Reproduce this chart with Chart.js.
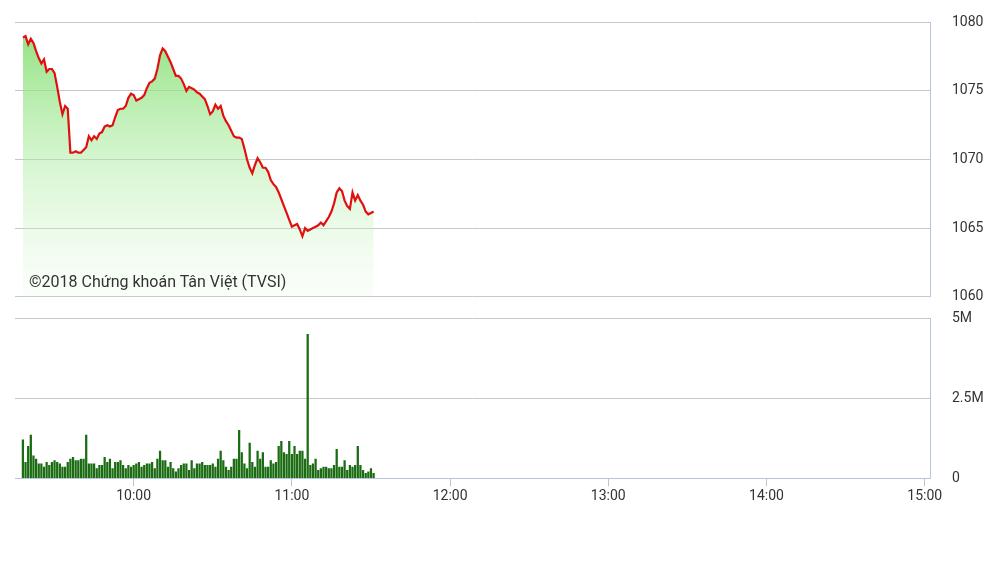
<!DOCTYPE html>
<html><head><meta charset="utf-8">
<script src="https://cdn.jsdelivr.net/npm/chart.js@4"></script>
<style>
body{margin:0;background:#fff;width:1005px;height:564px;overflow:hidden;position:relative;font-family:Roboto,sans-serif}
#c1{position:absolute;left:0;top:-8px}
#c2{position:absolute;left:0;top:288px}
#wm{position:absolute;left:29px;top:272px;font-size:16px;color:#333;font-family:Roboto,sans-serif}
</style></head><body>
<canvas id="c1" width="1005" height="335"></canvas>
<canvas id="c2" width="1005" height="264"></canvas>
<div id="wm">©2018 Chứng khoán Tân Việt (TVSI)</div>
<script>
const startMinute = 558; // 9:18
const prices = [1078.9,1079.0,1078.4,1078.8,1078.5,1077.9,1077.4,1077.0,1077.3,1076.4,1076.6,1076.6,1076.3,1075.3,1074.2,1073.3,1073.9,1073.7,1070.5,1070.5,1070.6,1070.5,1070.5,1070.7,1070.9,1071.7,1071.4,1071.7,1071.5,1071.9,1072.0,1072.4,1072.5,1072.4,1072.5,1073.1,1073.6,1073.7,1073.7,1073.9,1074.5,1074.8,1074.7,1074.3,1074.4,1074.5,1074.7,1075.2,1075.6,1075.7,1075.9,1076.6,1077.6,1078.1,1077.9,1077.5,1077.1,1076.6,1076.1,1076.1,1075.9,1075.5,1075.0,1075.3,1075.2,1075.1,1074.9,1074.8,1074.6,1074.4,1073.9,1073.3,1073.5,1074.0,1073.7,1073.9,1073.2,1072.8,1072.5,1072.1,1071.7,1071.6,1071.6,1071.5,1070.8,1070.0,1069.4,1069.0,1069.6,1070.1,1069.8,1069.4,1069.4,1069.1,1068.5,1068.2,1068.0,1067.6,1067.1,1066.6,1066.1,1065.6,1065.1,1065.2,1065.3,1064.9,1064.4,1065.0,1064.8,1064.9,1065.0,1065.1,1065.2,1065.4,1065.2,1065.5,1065.8,1066.2,1066.8,1067.6,1067.9,1067.7,1067.0,1066.6,1066.4,1067.6,1067.0,1067.4,1067.0,1066.7,1066.2,1066.0,1066.1,1066.2];
const volumesM = [1.2,0.5,1.0,1.35,0.7,0.6,0.45,0.45,0.35,0.5,0.4,0.5,0.55,0.5,0.45,0.35,0.35,0.5,0.6,0.65,0.55,0.55,0.6,0.6,1.35,0.45,0.45,0.45,0.3,0.4,0.4,0.65,0.5,0.6,0.3,0.5,0.5,0.55,0.4,0.3,0.4,0.35,0.4,0.45,0.5,0.35,0.4,0.45,0.45,0.5,0.3,0.6,0.85,0.55,0.55,0.35,0.5,0.3,0.2,0.3,0.4,0.45,0.45,0.25,0.55,0.3,0.45,0.45,0.5,0.4,0.4,0.4,0.45,0.35,0.6,0.85,0.55,0.35,0.25,0.35,0.6,0.6,1.5,0.8,0.45,0.3,1.1,0.5,0.35,0.85,0.6,0.8,0.35,0.35,0.55,0.45,0.5,1.0,1.15,0.8,0.75,1.15,0.75,1.0,0.75,0.85,0.85,0.6,4.5,0.4,0.45,0.6,0.25,0.3,0.35,0.35,0.3,0.3,0.4,0.9,0.35,0.35,0.55,0.25,0.4,0.35,0.4,1.0,0.4,0.25,0.15,0.2,0.3,0.15];
const priceTicks = [1060,1065,1070,1075,1080];
const volTicks = [0,2.5,5];
const timeTicks = [600,660,720,780,840,900];

const fmtTime = m => Math.floor(m/60)+':'+String(m%60).padStart(2,'0');
const priceData = prices.map((v,i)=>({x:startMinute+i,y:v}));
const volData = volumesM.map((v,i)=>({x:startMinute+i,y:v}));
const font = {family:'Roboto',size:14};
const col = '#333';
const grid = '#c8c8cc';
const fitW = s=>{s.width=75;};
const xMin=555,xMax=902;

new Chart(document.getElementById('c1'),{
  type:'line',
  data:{datasets:[{data:priceData,borderColor:'#e01010',borderWidth:2.2,pointRadius:0,tension:0,
    fill:'start',
    backgroundColor:(ctx)=>{const a=ctx.chart.chartArea;if(!a)return 'rgba(150,230,130,0.5)';
      const g=ctx.chart.ctx.createLinearGradient(0,a.top,0,a.bottom);
      g.addColorStop(0,'rgba(120,220,100,0.85)');g.addColorStop(1,'rgba(220,250,215,0.15)');return g;}}]},
  options:{responsive:false,animation:false,layout:{padding:{left:15,top:14,bottom:5,right:0}},
    plugins:{legend:{display:false},tooltip:{enabled:false}},
    scales:{
      x:{type:'linear',min:xMin,max:xMax,display:false},
      y:{position:'right',min:1060,max:1080,afterFit:fitW,
        afterBuildTicks:s=>{s.ticks=priceTicks.map(v=>({value:v}));},
        border:{display:true,color:'#b8c4dc'},
        grid:{color:grid,drawTicks:false},
        ticks:{color:col,font,padding:22,callback:v=>String(v)}}
    }}
});

new Chart(document.getElementById('c2'),{
  type:'bar',
  data:{datasets:[{data:volData,backgroundColor:'#1a6b12',barThickness:1.6}]},
  options:{responsive:false,animation:false,layout:{padding:{left:15,top:6,right:0,bottom:45}},
    plugins:{legend:{display:false},tooltip:{enabled:false}},
    scales:{
      x:{type:'linear',min:xMin,max:xMax,offset:false,
        afterBuildTicks:s=>{s.ticks=timeTicks.map(v=>({value:v}));},
        border:{display:true,color:'#b8c4dc'},
        grid:{display:true,offset:false,drawOnChartArea:false,color:'#b8c4dc',tickLength:8},
        ticks:{color:col,font,callback:v=>fmtTime(v),maxRotation:0,padding:2}},
      y:{position:'right',min:0,max:5,afterFit:fitW,
        afterBuildTicks:s=>{s.ticks=volTicks.map(v=>({value:v}));},
        border:{display:true,color:'#b8c4dc'},
        grid:{color:grid,drawTicks:false},
        ticks:{color:col,font,padding:22,callback:v=>v===0?'0':v+'M'}}
    }}
});
</script></body></html>
